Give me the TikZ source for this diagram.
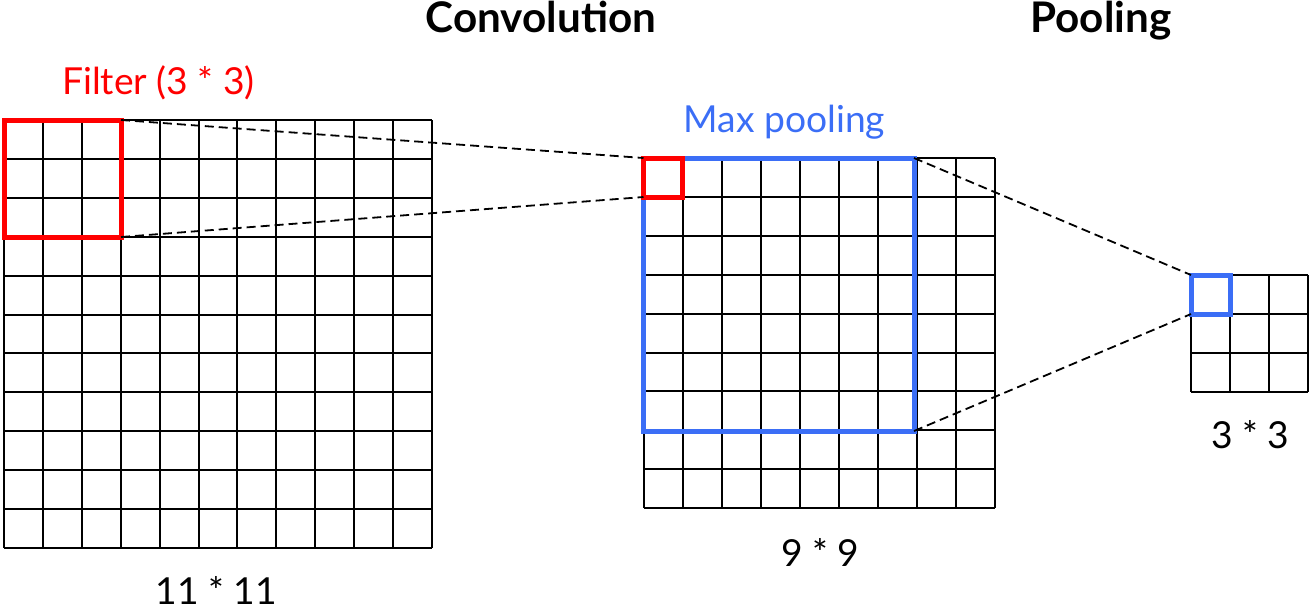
\documentclass[tikz,border=0pt]{standalone}
\usepackage{fontspec}
\setmainfont{Lato}
\definecolor{fred}{RGB}{255,0,0}
\definecolor{pblue}{RGB}{59,110,246}
\begin{document}
\begin{tikzpicture}[x=0.5pt,y=-0.5pt,
  gridline/.style={line width=1pt, black},
  redbox/.style={draw=fred, line width=2.5pt, inner sep=0pt, outer sep=0pt, anchor=north west},
  bluebox/.style={draw=pblue, line width=2.5pt, inner sep=0pt, outer sep=0pt, anchor=north west},
  dashline/.style={black, line width=0.9pt, dash pattern=on 4.5pt off 2.5pt},
  title/.style={font=\bfseries\fontsize{21.1}{25}\selectfont, anchor=base, inner sep=0pt},
  lbl/.style={font=\fontsize{18.6}{22}\selectfont, anchor=base, inner sep=0pt}]
\useasboundingbox (0,0) rectangle (1310,606);
% left grid 11 x 11
\foreach \i in {0,...,11} {
  \draw[gridline] (4+\i*38.9,120) -- (4+\i*38.9,548);
  \draw[gridline] (4,120+\i*38.9) -- (432,120+\i*38.9);
}
% middle grid 9 x 9
\foreach \i in {0,...,9} {
  \draw[gridline] (643.5+\i*39.05,158) -- (643.5+\i*39.05,508);
  \draw[gridline] (643.5,158+\i*38.9) -- (995,158+\i*38.9);
}
% right grid 3 x 3
\foreach \i in {0,...,3} {
  \draw[gridline] (1191+\i*39,275) -- (1191+\i*39,392);
  \draw[gridline] (1191,275+\i*39) -- (1308,275+\i*39);
}
% boxes
\node[redbox, minimum width=58.5pt, minimum height=58.5pt] (filter) at (4,120) {};
\node[bluebox, minimum width=135.25pt, minimum height=136.5pt] (maxpool) at (643.5,158) {};
\node[redbox, minimum width=19.5pt, minimum height=19.5pt] (cell) at (643.5,158) {};
\node[bluebox, minimum width=19.5pt, minimum height=19.5pt] (out) at (1191,275) {};
% connectors
\draw[dashline] (filter.north east) -- (cell.north west);
\draw[dashline] (filter.south east) -- (cell.south west);
\draw[dashline] (maxpool.north east) -- (out.north west);
\draw[dashline] (maxpool.south east) -- (out.south west);
% texts
\node[title] (tconv) at (541,32) {Convolution};
\node[title] (tpool) at (1101,32) {Pooling};
\node[lbl, text=fred] (tfilter) at (158.5,94) {Filter (3 * 3)};
\node[lbl, text=pblue] (tmax) at (784.5,132) {Max pooling};
\node[lbl] (t11) at (216.5,604) {11 * 11};
\node[lbl] (t9) at (820,566) {9 * 9};
\node[lbl] (t3) at (1250,448) {3 * 3};
\end{tikzpicture}
\end{document}
